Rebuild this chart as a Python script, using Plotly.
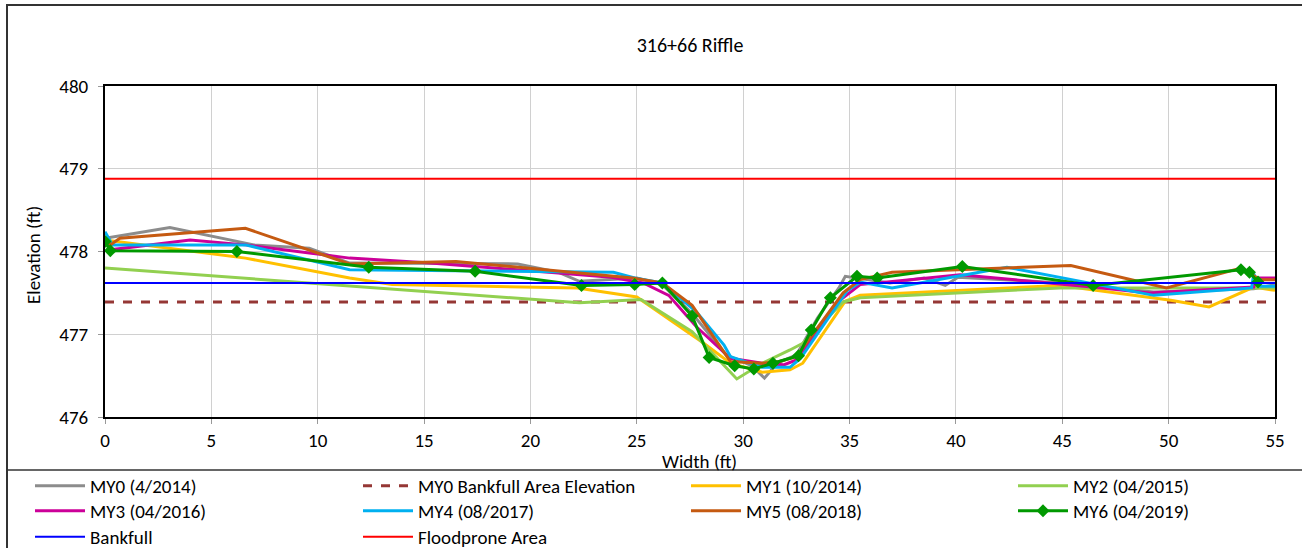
import plotly.graph_objects as go

# Cross-section survey data: station (ft) and elevation (ft)
my0_x = [0, 3.05, 7.0, 9.6, 11.5, 19.4, 21.3, 22.3, 25.0, 26.2, 27.6, 29.2, 30.4, 31.0, 31.6, 32.5, 33.5, 34.5, 34.8,
         36.9, 38.5, 39.5, 40.1, 45.0, 49.3, 54.0, 55.0]
my0_y = [478.16, 478.29, 478.08, 478.04, 477.86, 477.85, 477.75, 477.64, 477.68, 477.6, 477.25, 476.75, 476.62, 476.47,
         476.65, 476.75, 477.2, 477.56, 477.7, 477.62, 477.68, 477.59, 477.69, 477.62, 477.51, 477.55, 477.6]

my1_x = [0, 6.6, 11.5, 13.5, 22.2, 25.0, 28.1, 29.4, 30.9, 32.2, 32.8, 34.8, 35.5, 44.9, 50.1, 51.9, 54.0, 55.0]
my1_y = [478.14, 477.92, 477.68, 477.6, 477.56, 477.45, 476.9, 476.65, 476.54, 476.57, 476.65, 477.4, 477.47, 477.59,
         477.41, 477.33, 477.57, 477.53]

my2_x = [0, 15.7, 22.3, 25.2, 27.6, 29.7, 30.9, 32.2, 32.8, 34.7, 35.5, 44.9, 55.0]
my2_y = [477.8, 477.5, 477.38, 477.42, 477.03, 476.46, 476.65, 476.81, 476.89, 477.39, 477.44, 477.56, 477.56]

my3_x = [0, 0.25, 4.0, 6.6, 11.5, 15.3, 23.8, 25.3, 26.5, 27.8, 29.4, 30.9, 31.9, 32.5, 33.5, 34.5, 35.5, 40.2, 46.4,
         49.1, 54.0, 54.1, 55.0]
my3_y = [478.17, 478.02, 478.14, 478.08, 477.92, 477.86, 477.69, 477.62, 477.47, 477.09, 476.71, 476.65, 476.63, 476.69,
         477.05, 477.4, 477.6, 477.72, 477.57, 477.5, 477.57, 477.68, 477.68]

my4_x = [0, 0.35, 6.6, 11.5, 23.9, 24.9, 26.2, 27.8, 29.1, 29.4, 30.9, 32.2, 32.7, 34.9, 35.5, 37.0, 42.4, 44.9, 49.3,
         53.9, 54.0, 54.3, 55.0]
my4_y = [478.24, 478.08, 478.08, 477.78, 477.75, 477.68, 477.62, 477.27, 476.87, 476.73, 476.6, 476.6, 476.71, 477.53,
         477.63, 477.56, 477.81, 477.69, 477.47, 477.56, 477.73, 477.58, 477.58]

my5_x = [0, 0.25, 0.7, 6.6, 11.5, 16.5, 24.8, 26.2, 27.6, 29.1, 29.4, 30.9, 31.7, 32.5, 34.7, 35.5, 37.0, 45.4, 49.9,
         53.4, 54.3, 55.0]
my5_y = [478.17, 478.08, 478.16, 478.28, 477.85, 477.88, 477.68, 477.62, 477.35, 476.79, 476.67, 476.65, 476.67, 476.73,
         477.5, 477.66, 477.75, 477.83, 477.56, 477.8, 477.66, 477.66]

my6_x = [0, 0.25, 6.2, 12.4, 17.4, 22.4, 24.9, 26.2, 27.6, 28.4, 29.6, 30.5, 31.4, 32.6, 33.2, 34.1, 35.35, 36.3, 40.3,
         46.45, 53.4, 53.8, 54.2]
my6_y = [478.12, 478.01, 478.0, 477.81, 477.76, 477.59, 477.6, 477.62, 477.22, 476.72, 476.62, 476.58, 476.65, 476.74,
         477.05, 477.44, 477.7, 477.68, 477.82, 477.59, 477.78, 477.75, 477.63]

x_span = [0, 55]
bankfull_area_elev = 477.39
bankfull_elev = 477.62
floodprone_elev = 478.88

FONT = "Carlito, Calibri, Lato, sans-serif"

# (name, x, y, color, width, dash)
series = [
    ("MY0 (4/2014)", my0_x, my0_y, "#8c8c8c", 3, "solid"),
    ("MY0 Bankfull Area Elevation", x_span, [bankfull_area_elev] * 2, "#953735", 3, "dash"),
    ("MY1 (10/2014)", my1_x, my1_y, "#FFC000", 3, "solid"),
    ("MY2 (04/2015)", my2_x, my2_y, "#92D050", 3, "solid"),
    ("MY3 (04/2016)", my3_x, my3_y, "#CC0099", 3, "solid"),
    ("MY4 (08/2017)", my4_x, my4_y, "#00B0F0", 3, "solid"),
    ("MY5 (08/2018)", my5_x, my5_y, "#C55A11", 3, "solid"),
    ("MY6 (04/2019)", my6_x, my6_y, "#009900", 3, "solid"),
    ("Bankfull", x_span, [bankfull_elev] * 2, "#0000FF", 2, "solid"),
    ("Floodprone Area", x_span, [floodprone_elev] * 2, "#FF0000", 2, "solid"),
]

# Plot area spans pixels 105..1275 horizontally and 86..417 vertically
L, R, T, B = 105, 1275, 86, 417
W, H = 1302, 548


def px_x(p):
    return (p - L) / (R - L)


def px_y(p):
    return (B - p) / (B - T)


# Legend grid: 4 columns, 3 rows below the plot
legend_cols = [30, 358, 686, 1013]
legend_rows = [486, 511, 537]

fig = go.Figure()
legends = {}
for i, (name, xs, ys, color, width, dash) in enumerate(series):
    is_my6 = name.startswith("MY6")
    key = "legend" if i == 0 else f"legend{i + 1}"
    fig.add_trace(go.Scatter(
        x=xs, y=ys, name=name,
        mode="lines+markers" if is_my6 else "lines",
        line=dict(color=color, width=width, dash=dash),
        marker=dict(symbol="diamond", size=10, color=color) if is_my6 else None,
        legend=key,
    ))
    col, row = i % 4, i // 4
    legends[key] = dict(
        xref="container", yref="container",
        x=legend_cols[col] / W, y=1 - legend_rows[row] / H,
        xanchor="left", yanchor="middle",
        orientation="v", itemwidth=50,
        font=dict(family=FONT, size=19, color="#000"),
        bgcolor="rgba(0,0,0,0)",
    )

fig.update_layout(
    width=W, height=H,
    margin=dict(l=L, r=W - R, t=T, b=H - B, autoexpand=False),
    paper_bgcolor="white", plot_bgcolor="white",
    font=dict(family=FONT, size=19, color="#000"),
    title=dict(text="316+66 Riffle", x=px_x(690), xref="paper", xanchor="center",
               y=1 - 45 / H, yanchor="middle", font=dict(family=FONT, size=20, color="#000")),
    showlegend=True,
    **legends,
)

fig.update_xaxes(
    range=[0, 55], dtick=5, tick0=0,
    showgrid=True, gridcolor="#d0d0d0", gridwidth=1,
    showline=True, linecolor="#000", linewidth=2, mirror=True,
    ticks="outside", ticklen=5, tickcolor="#999",
    tickfont=dict(family=FONT, size=19, color="#000"),
    zeroline=False,
)
fig.update_yaxes(
    range=[476, 480], dtick=1, tick0=476,
    showgrid=True, gridcolor="#d0d0d0", gridwidth=1,
    showline=True, linecolor="#000", linewidth=2, mirror=True,
    ticks="outside", ticklen=5, tickcolor="#999", ticklabelstandoff=6,
    tickfont=dict(family=FONT, size=19, color="#000"),
    zeroline=False,
)

# Axis titles
fig.add_annotation(text="Width (ft)", xref="paper", yref="paper", x=px_x(699), y=px_y(461),
                   showarrow=False, font=dict(family=FONT, size=19, color="#000"),
                   xanchor="center", yanchor="middle")
fig.add_annotation(text="Elevation (ft)", xref="paper", yref="paper", x=px_x(33), y=px_y(255),
                   showarrow=False, textangle=-90, font=dict(family=FONT, size=19, color="#000"),
                   xanchor="center", yanchor="middle")

# Outer chart frame and legend separator
fig.add_shape(type="rect", xref="paper", yref="paper",
              x0=px_x(7), x1=px_x(1305), y0=px_y(560), y1=px_y(5),
              line=dict(color="#333", width=2), layer="below")
fig.add_shape(type="line", xref="paper", yref="paper",
              x0=px_x(7), x1=px_x(1305), y0=px_y(470), y1=px_y(470),
              line=dict(color="#333", width=1.5))

fig.write_html("out.html")
